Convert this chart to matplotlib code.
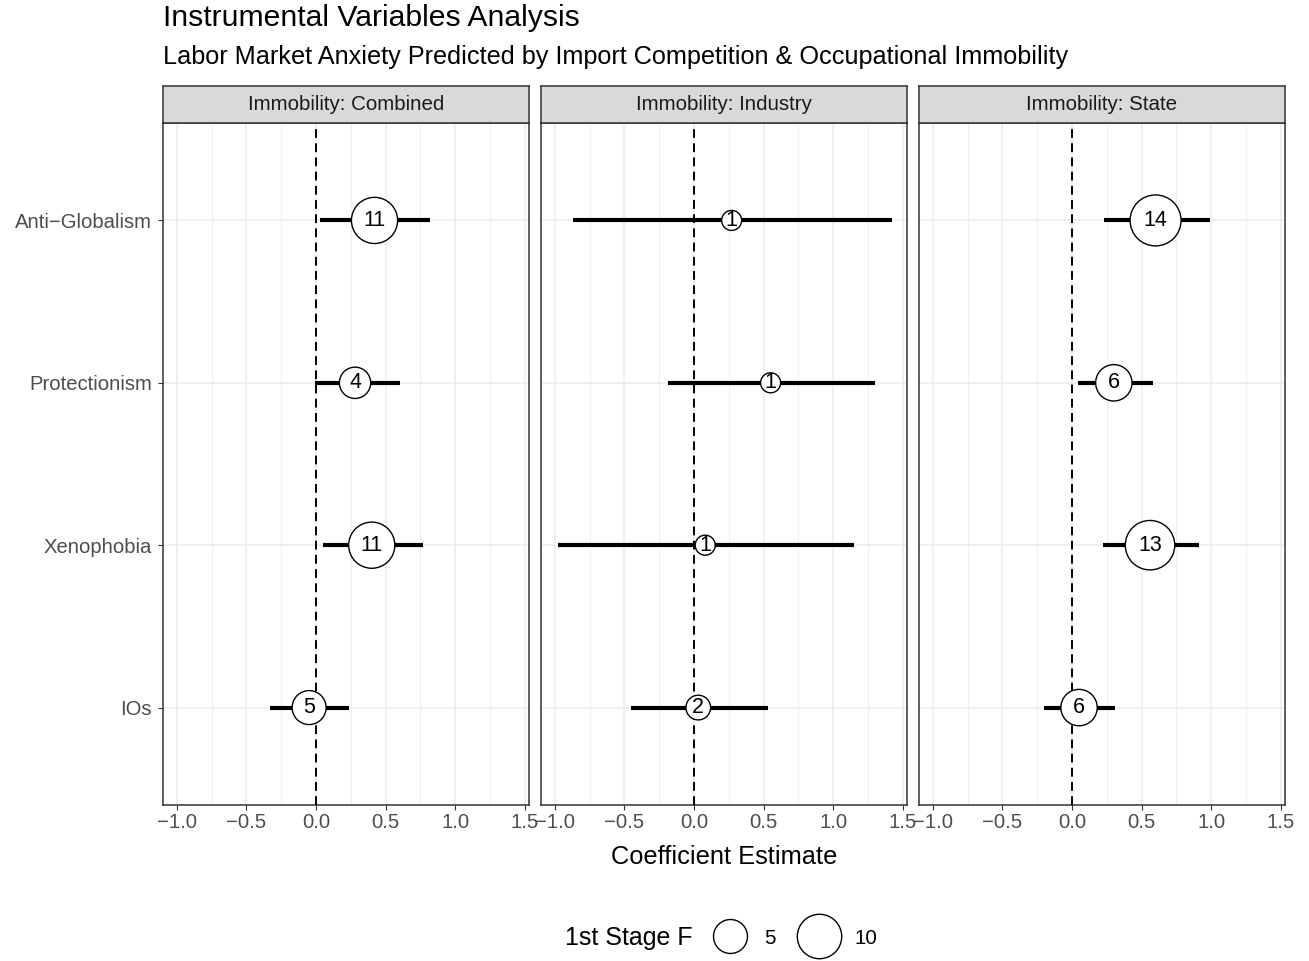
import numpy as np
import matplotlib.pyplot as plt
from matplotlib.lines import Line2D

plt.rcParams['font.family'] = ['Liberation Sans', 'DejaVu Sans']

# data
outcomes = ["Anti\u2212Globalism", "Protectionism", "Xenophobia", "IOs"]
panels = ["Immobility: Combined", "Immobility: Industry", "Immobility: State"]

est_combined = [0.42, 0.28, 0.40, -0.05]
lo_combined = [0.03, -0.01, 0.05, -0.33]
hi_combined = [0.82, 0.60, 0.77, 0.24]
f_combined = [11, 4, 11, 5]

est_industry = [0.27, 0.55, 0.08, 0.03]
lo_industry = [-0.87, -0.19, -0.98, -0.45]
hi_industry = [1.42, 1.30, 1.15, 0.53]
f_industry = [1, 1, 1, 2]

est_state = [0.60, 0.30, 0.56, 0.05]
lo_state = [0.23, 0.04, 0.22, -0.20]
hi_state = [0.99, 0.58, 0.91, 0.31]
f_state = [14, 6, 13, 6]

series = [
    (est_combined, lo_combined, hi_combined, f_combined),
    (est_industry, lo_industry, hi_industry, f_industry),
    (est_state, lo_state, hi_state, f_state),
]
legend_f = [5, 10]

W, H = 1309, 961
fig = plt.figure(figsize=(W / 100, H / 100), dpi=100)


def diam_pt(f):
    # circle diameter in points, area grows with F
    d_px = 8.7 + 11.3 * np.sqrt(np.asarray(f, dtype=float))
    return d_px * 0.72


panel_left = [163, 541, 919]
panel_w = 366
top, bottom = 123, 805
strip_h = 37
ypos = np.arange(len(outcomes))

for i, (est, lo, hi, fval) in enumerate(series):
    ax = fig.add_axes([panel_left[i] / W, 1 - bottom / H, panel_w / W, (bottom - top) / H])
    ax.set_xlim(-1.1, 1.53)
    ax.set_ylim(len(outcomes) - 0.4, -0.6)
    ax.set_xticks([-1.0, -0.5, 0.0, 0.5, 1.0, 1.5])
    ax.set_xticks([-0.75, -0.25, 0.25, 0.75, 1.25], minor=True)
    ax.set_xticklabels(["\u22121.0", "\u22120.5", "0.0", "0.5", "1.0", "1.5"])
    ax.set_yticks(ypos)
    ax.grid(True, which='major', color='#EBEBEB', lw=1.1, zorder=0)
    ax.grid(True, which='minor', axis='x', color='#EBEBEB', lw=0.6, zorder=0)
    ax.set_axisbelow(True)
    for s in ax.spines.values():
        s.set_color('#333333')
        s.set_linewidth(1.1)
    ax.tick_params(axis='both', which='major', length=3.5, width=0.8, color='#333333',
                   labelsize=14.6, labelcolor='#4D4D4D', pad=2.5)
    ax.tick_params(axis='y', pad=4.5)
    ax.tick_params(axis='x', which='minor', length=0)
    if i == 0:
        ax.set_yticklabels(outcomes)
    else:
        ax.tick_params(axis='y', length=0, labelleft=False)

    ax.hlines(ypos, lo, hi, color='black', lw=3, zorder=2)
    ax.axvline(0, color='black', ls=(0, (4.5, 2.8)), lw=1.4, zorder=3)
    ax.scatter(est, ypos, s=diam_pt(fval) ** 2, facecolor='white', edgecolor='black',
               lw=1.0, zorder=4)
    for x, y, f in zip(est, ypos, fval):
        ax.text(x, y, str(f), ha='center', va='center', fontsize=15.5, color='black', zorder=5)

    # facet strip
    sax = fig.add_axes([panel_left[i] / W, 1 - top / H, panel_w / W, strip_h / H])
    sax.set_facecolor('#D9D9D9')
    sax.set_xticks([])
    sax.set_yticks([])
    for s in sax.spines.values():
        s.set_color('#333333')
        s.set_linewidth(1.1)
    sax.text(0.5, 0.5, panels[i], ha='center', va='center', fontsize=14.8, color='#1A1A1A',
             transform=sax.transAxes)

fig.text(163 / W, 1 - 18 / H, "Instrumental Variables Analysis", fontsize=21.7,
         ha='left', va='center')
fig.text(163 / W, 1 - 57 / H,
         "Labor Market Anxiety Predicted by Import Competition & Occupational Immobility",
         fontsize=18.2, ha='left', va='center')
fig.text(724 / W, 1 - 857 / H, "Coefficient Estimate", fontsize=18.3, ha='center', va='center')

# size legend
handles = [Line2D([], [], ls='none', marker='o', markersize=diam_pt(f), markerfacecolor='white',
                  markeredgecolor='black', markeredgewidth=1.0) for f in legend_f]
leg = fig.legend(handles, [str(f) for f in legend_f], loc='center left',
                 bbox_to_anchor=(707 / W, 1 - 938 / H), ncol=2, frameon=False,
                 fontsize=14.8, handletextpad=0.6, columnspacing=1.0, handlelength=2.2,
                 borderpad=0, borderaxespad=0)
fig.text(693 / W, 1 - 938 / H, "1st Stage F", fontsize=18, ha='right', va='center')

fig.savefig("out.png", dpi=100)
